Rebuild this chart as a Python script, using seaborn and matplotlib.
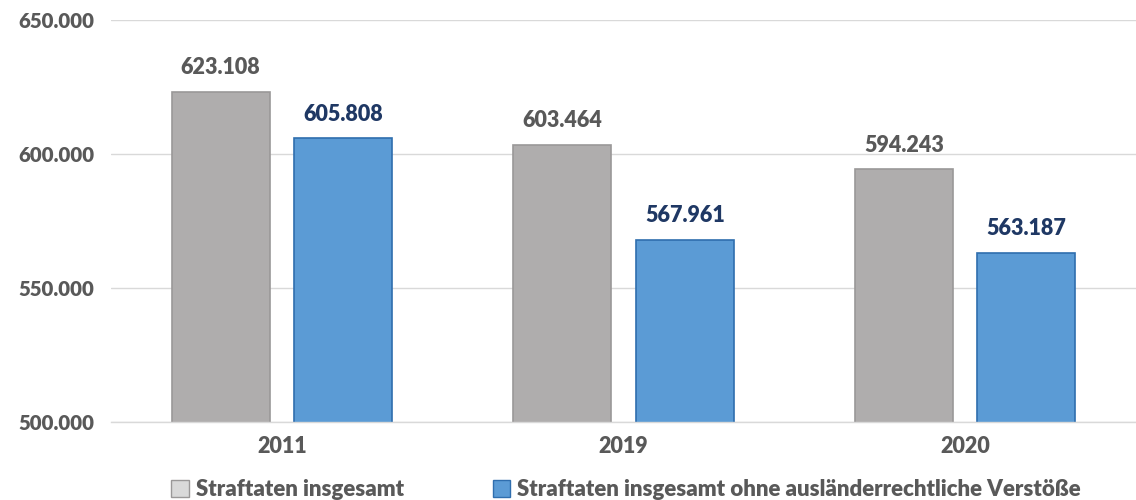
import matplotlib
matplotlib.use("Agg")
import matplotlib.pyplot as plt
import seaborn as sns
import pandas as pd
from matplotlib.patches import Patch
from matplotlib.ticker import FuncFormatter

years = ["2011", "2019", "2020"]
series_names = ["Straftaten insgesamt",
                "Straftaten insgesamt ohne ausländerrechtliche Verstöße"]
total = [623108, 603464, 594243]
ohne = [605808, 567961, 563187]

df = pd.DataFrame({
    "Jahr": years * 2,
    "Serie": [series_names[0]] * 3 + [series_names[1]] * 3,
    "Wert": total + ohne,
})

sns.set_theme(style="white")
plt.rcParams['font.family'] = ['Lato', 'DejaVu Sans']

fill_colors = ["#AFADAD", "#5B9BD5"]
edge_colors = ["#9A9898", "#2F6EAE"]
label_colors = ["#595959", "#1F3864"]
FS = 15.5

fig = plt.figure(figsize=(11.36, 5.0), dpi=100)
ax = fig.add_axes([0.0977, 0.156, 0.9023, 0.804])

sns.barplot(data=df, x="Jahr", y="Wert", hue="Serie", order=years,
            hue_order=series_names, palette=fill_colors, width=0.717,
            gap=0.2, ax=ax, legend=False, saturation=1)

for i, cont in enumerate(ax.containers):
    for bar in cont:
        bar.set_edgecolor(edge_colors[i])
        bar.set_linewidth(1.2)
    ax.bar_label(cont, labels=[f"{int(v):,}".replace(",", ".") for v in cont.datavalues],
                 padding=10, fontsize=FS, fontweight="heavy", color=label_colors[i])

ax.set_ylim(500000, 650000)
ax.set_xlim(-0.5, 2.5)
ax.set_yticks([500000, 550000, 600000, 650000])
ax.yaxis.set_major_formatter(FuncFormatter(lambda v, p: f"{int(v):,}".replace(",", ".")))
ax.grid(axis="y", color="#D9D9D9", linewidth=1)
ax.set_axisbelow(True)
for s in ["top", "right", "left"]:
    ax.spines[s].set_visible(False)
ax.spines["bottom"].set_color("#D9D9D9")
ax.spines["bottom"].set_linewidth(1)
ax.set_xlabel("")
ax.set_ylabel("")
ax.tick_params(axis="x", length=0, labelsize=FS, colors="#595959", pad=10)
ax.tick_params(axis="y", length=0, labelsize=14.8, colors="#595959", pad=12)
for t in ax.get_xticklabels() + ax.get_yticklabels():
    t.set_fontweight("heavy")

handles = [Patch(facecolor="#D9D9D9" if i == 0 else fill_colors[i],
                 edgecolor=edge_colors[i], label=series_names[i])
           for i in range(2)]
leg = fig.legend(handles=handles, loc="lower center", bbox_to_anchor=(0.551, -0.04),
                 ncol=2, frameon=False, columnspacing=4.0, handlelength=0.8,
                 handleheight=0.8, handletextpad=0.3,
                 prop={"weight": "heavy", "size": 16})
for t in leg.get_texts():
    t.set_color("#595959")

fig.savefig("out.png", dpi=100)
